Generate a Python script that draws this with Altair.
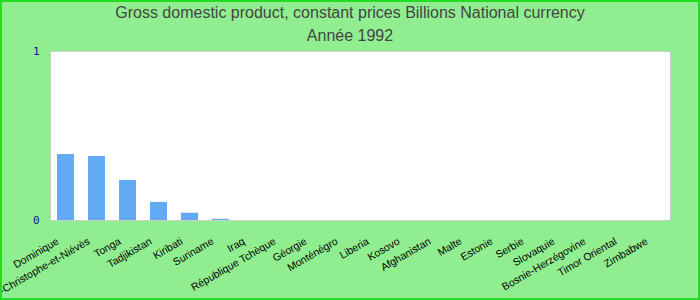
import altair as alt
import pandas as pd

countries = ["Dominique", "Saint-Christophe-et-Niévès", "Tonga", "Tadjikistan", "Kiribati",
             "Suriname", "Iraq", "République Tchèque", "Géorgie", "Monténégro",
             "Liberia", "Kosovo", "Afghanistan", "Malte", "Estonie",
             "Serbie", "Slovaquie", "Bosnie-Herzégovine", "Timor Oriental", "Zimbabwe"]
values = [0.39, 0.379, 0.237, 0.107, 0.043,
          0.007, 0, 0, 0, 0,
          0, 0, 0, 0, 0,
          0, 0, 0, 0, 0]
title_lines = ["Gross domestic product, constant prices Billions National currency", "Année 1992"]

df = pd.DataFrame({"country": countries, "value": values})
one = pd.DataFrame({"k": [0]})

bars = alt.Chart(df).mark_bar(color="#63aaf5", size=17).encode(
    x=alt.X("country:N", sort=countries, title=None,
            scale=alt.Scale(paddingInner=0.45, paddingOuter=0.225),
            axis=alt.Axis(labelAngle=-30, labelAlign="right", labelBaseline="top",
                          labelFont="Liberation Sans", labelFontSize=10.5, labelColor="#000000",
                          labelPadding=16, labelOffset=-10, ticks=False, domain=False,
                          labelOverlap=False, labelLimit=300)),
    y=alt.Y("value:Q", title=None,
            scale=alt.Scale(domain=[0, 1], nice=False),
            axis=alt.Axis(values=[0, 1], format="d", ticks=False, domain=False, grid=False,
                          labelFont="DejaVu Sans Mono", labelFontSize=11, labelColor="#1010a0",
                          labelPadding=11)),
)

title_style = dict(font="Liberation Sans", fontSize=16, color="#444444", align="center", baseline="middle")
t1 = alt.Chart(one).mark_text(text=title_lines[0], **title_style).encode(
    x=alt.value(300), y=alt.value(-38))
t2 = alt.Chart(one).mark_text(text=title_lines[1], **title_style).encode(
    x=alt.value(300), y=alt.value(-15))

frame = alt.Chart(one).mark_rect(filled=False, stroke="#22dd22", strokeWidth=2).encode(
    x=alt.value(-49), x2=alt.value(649), y=alt.value(-50), y2=alt.value(248)
)

chart = alt.layer(bars, t1, t2, frame).properties(
    width=620, height=169,
    autosize=alt.AutoSizeParams(type="none"),
    padding={"left": 50, "top": 51, "right": 30, "bottom": 80},
).configure(background="#90ee90").configure_view(fill="white", stroke="#cccccc", strokeWidth=1)

chart.save("out.html", embed_options={"renderer": "svg", "actions": False})
